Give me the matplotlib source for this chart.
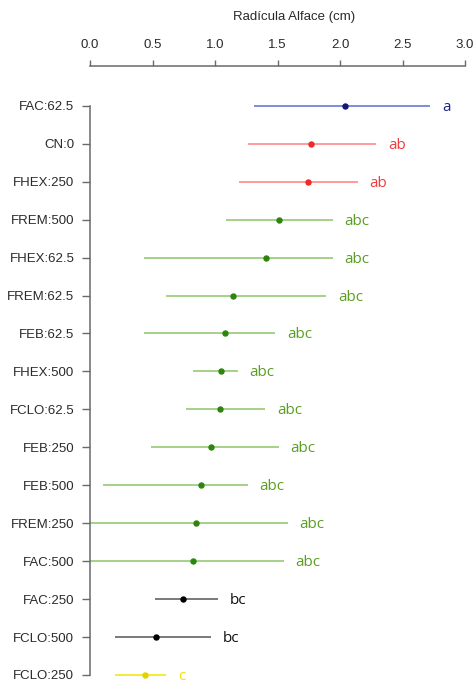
import matplotlib
matplotlib.use("Agg")
import matplotlib.pyplot as plt

categories = ["FAC:62.5", "CN:0", "FHEX:250", "FREM:500", "FHEX:62.5", "FREM:62.5",
              "FEB:62.5", "FHEX:500", "FCLO:62.5", "FEB:250", "FEB:500", "FREM:250",
              "FAC:500", "FAC:250", "FCLO:500", "FCLO:250"]
means = [2.04, 1.77, 1.74, 1.51, 1.41, 1.14, 1.08, 1.05, 1.04, 0.97, 0.89, 0.85,
         0.82, 0.74, 0.53, 0.44]
lower = [1.31, 1.26, 1.19, 1.09, 0.43, 0.61, 0.43, 0.82, 0.77, 0.49, 0.10, -0.10,
         -0.10, 0.52, 0.20, 0.20]
upper = [2.72, 2.29, 2.14, 1.94, 1.94, 1.89, 1.48, 1.18, 1.40, 1.51, 1.26, 1.58,
         1.55, 1.02, 0.97, 0.61]
letters = ["a", "ab", "ab", "abc", "abc", "abc", "abc", "abc", "abc", "abc", "abc",
           "abc", "abc", "bc", "bc", "c"]
x_ticks = [0.0, 0.5, 1.0, 1.5, 2.0, 2.5, 3.0]
x_title = "Radícula Alface (cm)"

# colour per letter group: (line, point, text)
group_colors = {
    "a": ("#5c6bd6", "#15157a", "#1c2380"),
    "ab": ("#ff7f7f", "#ee2a2a", "#f03c3c"),
    "abc": ("#8cc56a", "#2e850e", "#5a9e22"),
    "bc": ("#555555", "#000000", "#111111"),
    "c": ("#f2e600", "#e3d200", "#f2e000"),
}

W, H = 476, 685
fig = plt.figure(figsize=(W / 100, H / 100), dpi=100)
ax = fig.add_axes([90 / W, 0, (465 - 90) / W, 1 - 66 / H])

n = len(categories)
ypos = [n - 1 - i for i in range(n)]
for i in range(n):
    lc, pc, tc = group_colors[letters[i]]
    y = ypos[i]
    ax.plot([lower[i], upper[i]], [y, y], color=lc, lw=1.1, solid_capstyle="butt", zorder=2)
    ax.plot([means[i]], [y], "o", color=pc, ms=3.6, zorder=3, clip_on=False)
    ax.annotate(letters[i], xy=(upper[i], y), xytext=(8.5, -3.6), textcoords="offset points",
                ha="left", va="baseline", color=tc, fontsize=11, family="Open Sans",
                annotation_clip=False)

ax.set_xlim(0, 3)
ax.set_ylim(-0.264, 16.05)

for s in ["right", "bottom"]:
    ax.spines[s].set_visible(False)
ax.spines["top"].set_bounds(0, 3)
ax.spines["left"].set_bounds(0, n - 1)
for s in ["top", "left"]:
    ax.spines[s].set_color("#6a6a6a")
    ax.spines[s].set_linewidth(1.1)

ax.xaxis.set_ticks_position("top")
ax.xaxis.set_label_position("top")
ax.set_xticks(x_ticks)
ax.set_xticklabels([f"{t:.1f}" for t in x_ticks], family="Liberation Sans",
                   fontsize=9.5, color="#2a2a2a")
ax.tick_params(axis="x", direction="out", length=4.5, width=1.0, color="#6a6a6a", pad=6)

ax.set_yticks(ypos)
ax.set_yticklabels(categories, family="Liberation Sans", fontsize=9.5, color="#2a2a2a")
ax.tick_params(axis="y", direction="out", length=5.8, width=1.0, color="#6a6a6a", pad=5.5)

fig.text(294 / W, 1 - 17 / H, x_title, ha="center", va="center",
         family="Liberation Sans", fontsize=9.5, color="#2a2a2a")

fig.savefig("out.png", dpi=100)
